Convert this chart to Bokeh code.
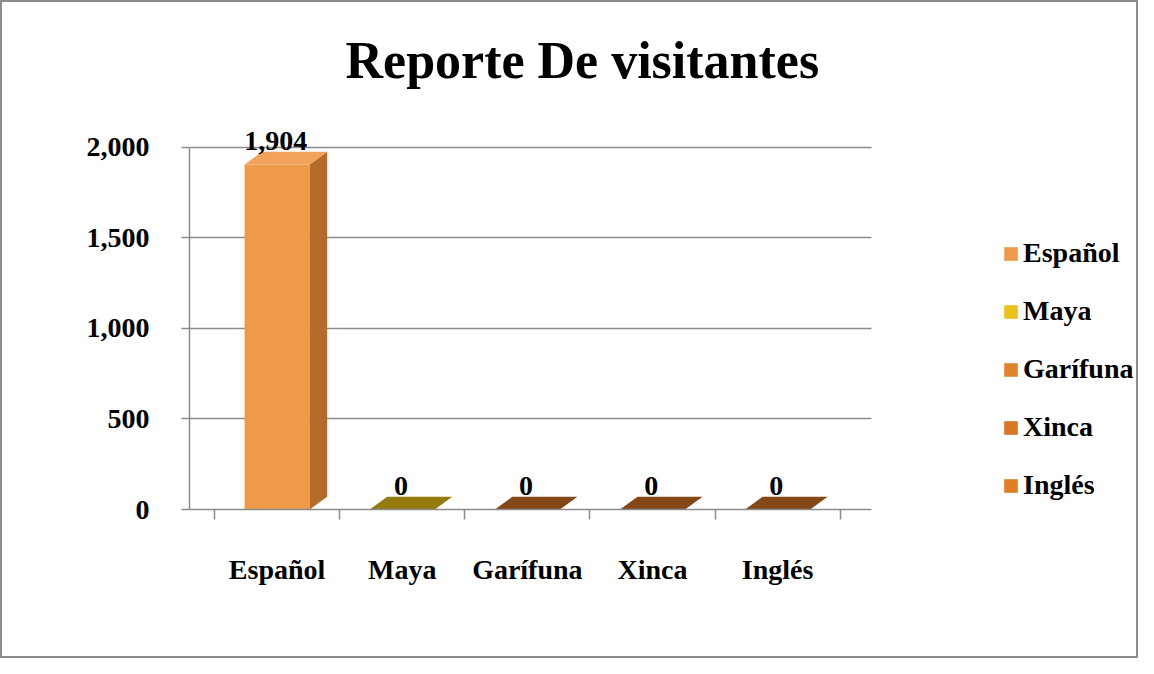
from bokeh.plotting import figure
from bokeh.models import Range1d, FixedTicker, Legend, LegendItem, ColumnDataSource
from bokeh.embed import file_html
from bokeh.resources import INLINE
from bokeh.core.properties import value

categories = ["Español", "Maya", "Garífuna", "Xinca", "Inglés"]
visitantes = [1904, 0, 0, 0, 0]
y_ticks = [0, 500, 1000, 1500, 2000]
y_tick_labels = ["0", "500", "1,000", "1,500", "2,000"]
legend_colors = ["#EE9A48", "#EBC11C", "#E0832C", "#DA7521", "#DE7E25"]
side_colors = ["#B56C2A", "#8A7210", "#7A4212", "#7A4212", "#7A4212"]
top_colors = ["#F2A25A", "#957A0E", "#844816", "#844816", "#844816"]

FONT = "Liberation Serif"
GRID = "#8C8C8C"

bar_w = 0.52
dx = 0.14
dy = 70.0
X0, X1 = -0.7, 4.75

xs_idx = list(range(len(categories)))
front = ColumnDataSource(dict(x=xs_idx, top=visitantes, color=legend_colors, cat=categories))

side_xs, side_ys, top_xs, top_ys = [], [], [], []
for i, v in zip(xs_idx, visitantes):
    l, r = i - bar_w / 2, i + bar_w / 2
    side_xs.append([r, r + dx, r + dx, r])
    side_ys.append([0, dy, v + dy, v])
    top_xs.append([l, r, r + dx, l + dx])
    top_ys.append([v, v, v + dy, v + dy])

side = ColumnDataSource(dict(xs=side_xs, ys=side_ys, color=side_colors))
topf = ColumnDataSource(dict(xs=top_xs, ys=top_ys, color=top_colors))
labels = ColumnDataSource(dict(
    x=[i + dx / 2 - 0.08 for i in xs_idx],
    y=[v + dy for v in visitantes],
    text=[f"{v:,}" for v in visitantes],
))

p = figure(width=1138, height=658, output_backend="svg", toolbar_location=None,
           x_range=Range1d(X0, 6.9), y_range=Range1d(0, 2290),
           min_border_left=187, min_border_top=92, min_border_bottom=151,
           min_border_right=0, title="Reporte De visitantes")
p.styles = {"border": "2px solid #8C8C8C"}
p.outline_line_color = None
p.background_fill_color = "white"
p.border_fill_color = "white"

p.title.text_font = FONT
p.title.text_font_size = "52px"
p.title.text_font_style = "bold"
p.title.text_color = "black"
p.title.align = "left"
p.title.offset = 156
p.title.standoff = 12

r_front = p.vbar(x="x", top="top", width=bar_w, bottom=0, fill_color="color",
                 line_color=None, source=front)
p.patches("xs", "ys", fill_color="color", line_color=None, source=side)
p.patches("xs", "ys", fill_color="color", line_color=None, source=topf)
p.text("x", "y", text="text", source=labels, text_font=value(FONT),
       text_font_size="28px", text_font_style="bold", text_align="center",
       text_baseline="bottom", y_offset=-2, text_color="black")

p.yaxis.ticker = FixedTicker(ticks=y_ticks)
p.yaxis.major_label_overrides = {t: s for t, s in zip(y_ticks, y_tick_labels)}
p.yaxis.bounds = (0, 2000)
p.xaxis.ticker = FixedTicker(ticks=xs_idx, minor_ticks=[i - 0.5 for i in xs_idx] + [len(xs_idx) - 0.5])
p.xaxis.major_label_overrides = {i: c for i, c in zip(xs_idx, categories)}
p.xaxis.bounds = (X0, X1)
for ax in (p.xaxis, p.yaxis):
    ax.axis_line_color = GRID
    ax.axis_line_width = 1.5
    ax.major_tick_line_color = GRID
    ax.major_tick_line_width = 1.5
    ax.major_tick_out = 8
    ax.major_tick_in = 0
    ax.minor_tick_line_color = None
    ax.major_label_text_font = FONT
    ax.major_label_text_font_size = "28px"
    ax.major_label_text_font_style = "bold"
    ax.major_label_text_color = "black"
p.xaxis.major_tick_line_color = None
p.xaxis.minor_tick_line_color = GRID
p.xaxis.minor_tick_line_width = 1.5
p.xaxis.minor_tick_out = 10
p.xaxis.minor_tick_in = 0
p.yaxis.major_label_standoff = 32
p.xaxis.major_label_standoff = 34
p.xgrid.grid_line_color = None
p.ygrid.ticker = FixedTicker(ticks=y_ticks)
p.ygrid.grid_line_color = GRID
p.ygrid.grid_line_width = 1.5
p.ygrid.cross_bounds = (X0, X1)

items = [LegendItem(label=c, renderers=[r_front], index=i) for i, c in enumerate(categories)]
legend = Legend(items=items, location=(813, 8), background_fill_alpha=0,
                border_line_color=None, label_text_font=FONT, label_text_color="black",
                label_text_font_size="28px", label_text_font_style="bold",
                glyph_width=17, glyph_height=17, label_standoff=4,
                label_height=26, spacing=26, padding=0, margin=0)
p.add_layout(legend, "center")

open("out.html", "w").write(file_html(p, INLINE))
